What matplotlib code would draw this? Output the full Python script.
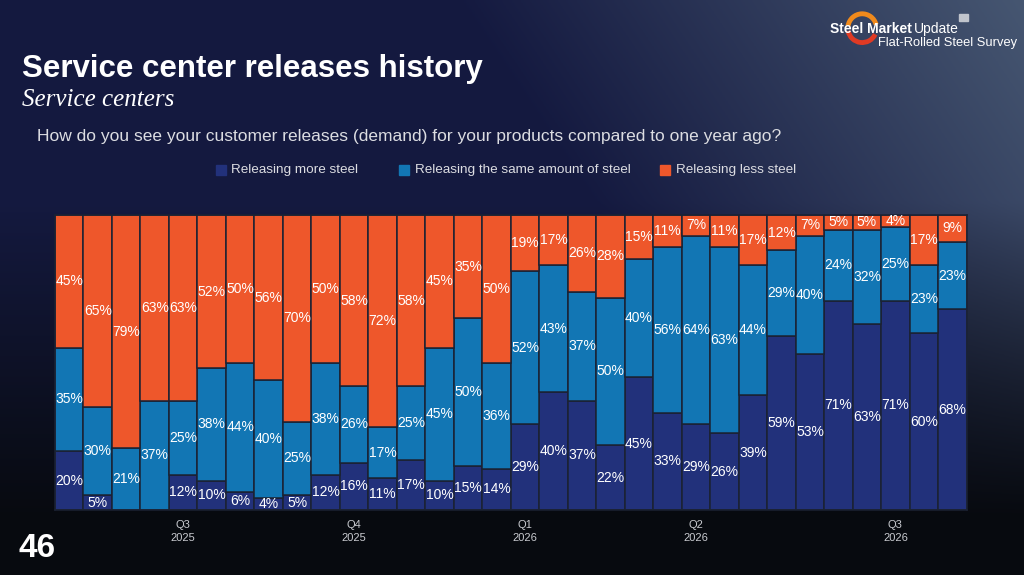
import numpy as np
import matplotlib
matplotlib.use("Agg")
from matplotlib import pyplot as plt
from matplotlib.patches import Rectangle, Arc

# survey share per period (percent)
more_steel = [20, 5, 0, 0, 12, 10, 6, 4, 5, 12, 16, 11, 17, 10, 15, 14,
              29, 40, 37, 22, 45, 33, 29, 26, 39, 59, 53, 71, 63, 71, 60, 68]
same_steel = [35, 30, 21, 37, 25, 38, 44, 40, 25, 38, 26, 17, 25, 45, 50, 36,
              52, 43, 37, 50, 40, 56, 64, 63, 44, 29, 40, 24, 32, 25, 23, 23]
less_steel = [45, 65, 79, 63, 63, 52, 50, 56, 70, 50, 58, 72, 58, 45, 35, 50,
              19, 17, 26, 28, 15, 11, 7, 11, 17, 12, 7, 5, 5, 4, 17, 9]
quarter_pos = [4, 10, 16, 22, 29]
quarter_labels = ["Q3\n2025", "Q4\n2025", "Q1\n2026", "Q2\n2026", "Q3\n2026"]
series_names = ["Releasing more steel", "Releasing the same amount of steel",
                "Releasing less steel"]
colors = ["#22317b", "#1276b4", "#ee572b"]

plt.rcParams['font.family'] = ['Liberation Sans', 'DejaVu Sans']

fig = plt.figure(figsize=(10.24, 5.75), dpi=100)

# background
bg = fig.add_axes([0, 0, 1, 1], zorder=-10)
h, w = 200, 360
yy, xx = np.mgrid[0:1:h * 1j, 0:1:w * 1j]
navy = np.array([0.08, 0.10, 0.25])
grey = np.array([0.30, 0.37, 0.47])
black = np.array([0.03, 0.04, 0.06])
t = np.clip((xx - 0.45) * 1.6 - yy * 0.6, 0, 1)[..., None]
top = navy * (1 - t) + grey * t
v = np.clip((yy - 0.35) / 0.55, 0, 1)[..., None]
img = top * (1 - v) + black * v
bg.imshow(img, aspect='auto', extent=[0, 1, 0, 1], origin='upper')
bg.set_xlim(0, 1)
bg.set_ylim(0, 1)
bg.axis('off')

ax = fig.add_axes([0.0537, 0.113, 0.8903, 0.513])
x = np.arange(len(more_steel))
bottoms = np.zeros(len(x))
for vals, c in zip([more_steel, same_steel, less_steel], colors):
    vals = np.array(vals)
    ax.bar(x, vals, width=1.0, bottom=bottoms, color=c,
           edgecolor="#1b2233", linewidth=1.1)
    for xi, b, val in zip(x, bottoms, vals):
        if val > 0:
            ax.text(xi, b + val / 2, f"{val}%", ha='center', va='center',
                    color='white', fontsize=10)
    bottoms = bottoms + vals

ax.set_xlim(-0.5, len(x) - 0.5)
ax.set_ylim(0, 100)
ax.set_yticks([])
ax.set_xticks(quarter_pos)
ax.set_xticklabels(quarter_labels, color="#c9cbd0", fontsize=8,
                   linespacing=1.45)
ax.tick_params(axis='x', length=0, pad=7)
for s in ax.spines.values():
    s.set_color("#1b2233")
    s.set_linewidth(1.1)

# titles
fig.text(0.021, 0.880, "Service center releases history", color='white',
         fontsize=22.5, fontweight='bold', va='center')
fig.text(0.021, 0.826, "Service centers", color='white', fontsize=18,
         family=['Liberation Serif'], style='italic', va='center')
fig.text(0.036, 0.762, "How do you see your customer releases (demand) for "
         "your products compared to one year ago?", color="#dcdde2",
         fontsize=12.5, va='center')

# legend
leg_x = [0.211, 0.390, 0.645]
for lx, name, c in zip(leg_x, series_names, colors):
    fig.patches.append(Rectangle((lx, 0.695), 0.0095, 0.018, color=c,
                                 transform=fig.transFigure, figure=fig))
    fig.text(lx + 0.015, 0.704, name, color="#dcdde2", fontsize=9.7,
             va='center')

# logo
fig.patches.append(Arc((0.842, 0.951), 0.028, 0.05, theta1=25, theta2=165,
                       color="#f08a1c", linewidth=3.5,
                       transform=fig.transFigure, figure=fig))
fig.patches.append(Arc((0.842, 0.951), 0.028, 0.05, theta1=200, theta2=320,
                       color="#e03a24", linewidth=3.5,
                       transform=fig.transFigure, figure=fig))
fig.text(0.811, 0.949, "Steel Market", color='white', fontsize=10,
         fontweight='bold', va='center')
fig.text(0.892, 0.949, "Update", color='white', fontsize=10, va='center')
fig.text(0.857, 0.926, "Flat-Rolled Steel Survey", color='white',
         fontsize=9.3, va='center')
fig.patches.append(Rectangle((0.937, 0.963), 0.008, 0.012, color="#c0c4cc",
                             transform=fig.transFigure, figure=fig))

fig.text(0.018, 0.046, "46", color='white', fontsize=24, fontweight='bold',
         va='center')

fig.savefig("out.png", dpi=100)
